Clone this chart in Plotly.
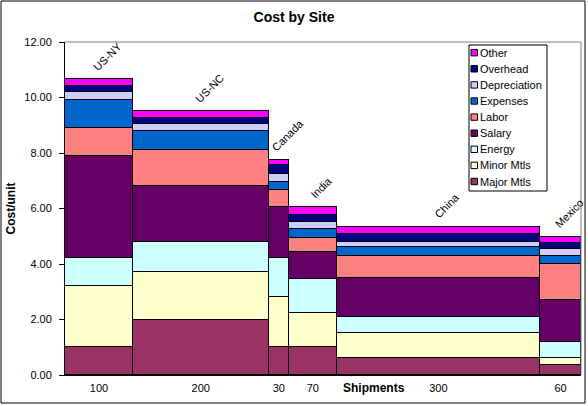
import plotly.graph_objects as go

sites = ["US-NY", "US-NC", "Canada", "India", "China", "Mexico"]
shipments = [100, 200, 30, 70, 300, 60]

categories = ["Major Mtls", "Minor Mtls", "Energy", "Salary", "Labor",
              "Expenses", "Depreciation", "Overhead", "Other"]
major_mtls   = [1.00, 2.00, 1.00, 1.00, 0.60, 0.37]
minor_mtls   = [2.20, 1.70, 1.80, 1.23, 0.90, 0.23]
energy       = [1.00, 1.10, 1.40, 1.23, 0.60, 0.58]
salary       = [3.70, 2.00, 1.85, 0.97, 1.40, 1.52]
labor        = [1.00, 1.30, 0.60, 0.50, 0.80, 1.30]
expenses     = [1.00, 0.70, 0.30, 0.34, 0.33, 0.28]
depreciation = [0.30, 0.25, 0.30, 0.24, 0.17, 0.25]
overhead     = [0.20, 0.20, 0.30, 0.26, 0.27, 0.23]
other        = [0.25, 0.25, 0.20, 0.28, 0.27, 0.22]

y_ticks = [0, 2, 4, 6, 8, 10, 12]

series = [major_mtls, minor_mtls, energy, salary, labor,
          expenses, depreciation, overhead, other]
colors = ["#993366", "#FFFFCC", "#CCFFFF", "#660066", "#FF8080",
          "#0066CC", "#CCCCFF", "#000080", "#FF00FF"]

W, H = 588, 406
L, R, T, B = 65, 7, 42, 31
PW, PH = W - L - R, H - T - B


def px(x):
    return (x - L) / PW


def py(y):
    return (H - B - y) / PH


# bar centres from cumulative shipments
centers = []
acc = 0
for w in shipments:
    centers.append(acc + w / 2)
    acc += w
total = acc

fig = go.Figure()
for name, vals, col in zip(categories, series, colors):
    fig.add_trace(go.Bar(
        x=centers, y=vals, width=shipments, name=name, showlegend=False,
        marker=dict(color=col, line=dict(color="black", width=1)),
        hoverinfo="name+y",
    ))

totals = [sum(s[i] for s in series) for i in range(len(sites))]
for c, t, s in zip(centers, totals, sites):
    fig.add_annotation(x=c, y=t, text=s, showarrow=False, textangle=-45,
                       xanchor="center", yanchor="bottom", xshift=9, yshift=4,
                       font=dict(family="Arial", size=11, color="black"))

fig.add_annotation(x=px(374), y=py(388), xref="paper", yref="paper",
                   xanchor="center", yanchor="middle",
                   text="<b>Shipments</b>", showarrow=False,
                   font=dict(family="Arial", size=12, color="black"))

# plot-area grey top and right edges
fig.add_shape(type="line", xref="paper", yref="paper", x0=0, x1=1, y0=1, y1=1,
              line=dict(color="#808080", width=1))
fig.add_shape(type="line", xref="paper", yref="paper", x0=1, x1=1, y0=0, y1=1,
              line=dict(color="#808080", width=1))
# outer chart border
fig.add_shape(type="rect", xref="paper", yref="paper",
              x0=px(1), x1=px(585), y0=py(403), y1=py(1),
              line=dict(color="black", width=1), fillcolor="rgba(0,0,0,0)")

# legend box (drawn by hand to match the compact original)
fig.add_shape(type="rect", xref="paper", yref="paper",
              x0=px(469), x1=px(547), y0=py(191), y1=py(45),
              line=dict(color="black", width=1), fillcolor="white")
for i, (name, col) in enumerate(zip(categories[::-1], colors[::-1])):
    yc = 52.7 + i * 16.1
    fig.add_shape(type="rect", xref="paper", yref="paper",
                  x0=px(471), x1=px(477.5), y0=py(yc + 3.2), y1=py(yc - 3.2),
                  line=dict(color="black", width=1), fillcolor=col)
    fig.add_annotation(x=px(478), y=py(yc), xref="paper", yref="paper",
                       xanchor="left", yanchor="middle", text=name,
                       showarrow=False,
                       font=dict(family="Arial", size=11, color="black"))

fig.update_layout(
    width=W, height=H,
    margin=dict(l=L, r=R, t=T, b=B),
    paper_bgcolor="white", plot_bgcolor="white",
    barmode="stack", bargap=0,
    font=dict(family="Arial", size=11, color="black"),
    title=dict(text="<b>Cost by Site</b>", x=0.5, xanchor="center",
               y=1 - 17 / H, yanchor="middle",
               font=dict(family="Arial", size=14, color="black")),
    xaxis=dict(range=[0, total], tickvals=centers,
               ticktext=[str(s) for s in shipments],
               showline=True, linecolor="black", linewidth=1,
               ticks="", showgrid=False, zeroline=False, automargin=False,
               ticklabelstandoff=3,
               tickfont=dict(family="Arial", size=11)),
    yaxis=dict(range=[0, 12], tickvals=y_ticks,
               ticktext=[f"{v:.2f}" for v in y_ticks],
               showline=True, linecolor="black", linewidth=1,
               ticks="outside", ticklen=5, tickcolor="black",
               showgrid=False, zeroline=False, automargin=False,
               ticklabelstandoff=5,
               title=dict(text="<b>Cost/unit</b>", standoff=6,
                          font=dict(family="Arial", size=12)),
               tickfont=dict(family="Arial", size=11)),
    showlegend=False,
)

fig.write_html("out.html",
               config={"displayModeBar": False},
               post_script="document.body.style.margin='0px';"
                           "document.body.style.padding='0px';")
